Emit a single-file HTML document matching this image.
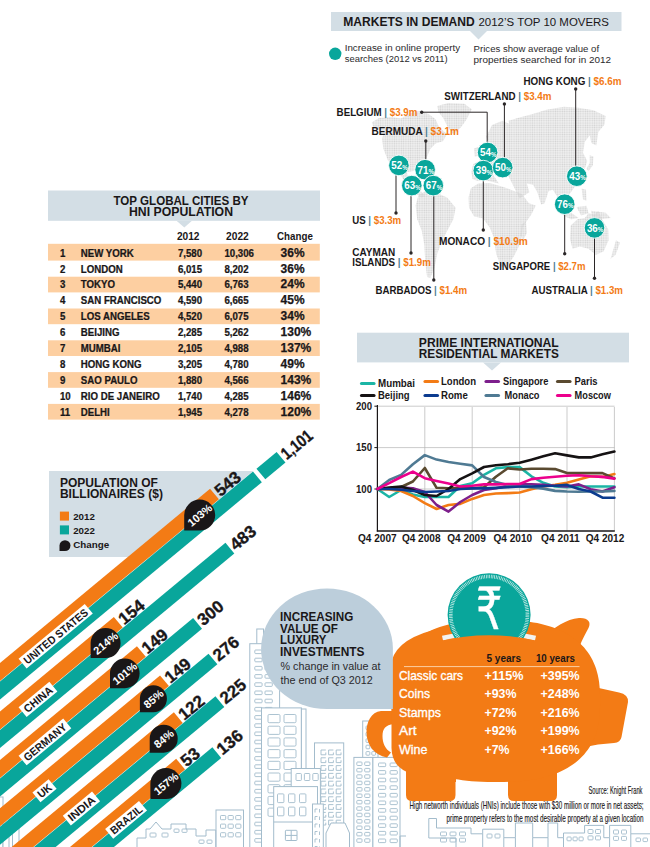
<!DOCTYPE html>
<html lang="en">
<head>
<meta charset="utf-8">
<title>Markets in demand</title>
<style>
html,body{margin:0;padding:0;background:#fff;}
body{width:650px;height:847px;overflow:hidden;font-family:"Liberation Sans",sans-serif;}
svg{display:block;font-family:"Liberation Sans",sans-serif;}
</style>
</head>
<body>
<svg width="650" height="847" viewBox="0 0 650 847">
<rect x="0" y="0" width="650" height="847" fill="#ffffff"/>
<g id="skyline" fill="none" stroke="#a3bccc" stroke-width="1">
<rect x="-5.0" y="797.0" width="8.0" height="53.0" fill="#fff"/>
<rect x="3.0" y="812.0" width="6.0" height="38.0" fill="#fff"/>
<rect x="12.5" y="822.0" width="6.5" height="28.0" fill="#fff"/>
<rect x="256.8" y="629.0" width="6.7" height="21.0" fill="#fff"/>
<rect x="249.8" y="643.7" width="29.8" height="206.3" fill="#fff"/>
<rect x="254.8" y="650.0" width="7.3" height="3.6" rx="0.8" stroke-width="0.9"/>
<rect x="254.8" y="658.2" width="7.3" height="3.6" rx="0.8" stroke-width="0.9"/>
<rect x="254.8" y="666.4" width="7.3" height="3.6" rx="0.8" stroke-width="0.9"/>
<rect x="254.8" y="674.6" width="7.3" height="3.6" rx="0.8" stroke-width="0.9"/>
<rect x="254.8" y="682.8" width="7.3" height="3.6" rx="0.8" stroke-width="0.9"/>
<rect x="254.8" y="691.0" width="7.3" height="3.6" rx="0.8" stroke-width="0.9"/>
<rect x="254.8" y="699.2" width="7.3" height="3.6" rx="0.8" stroke-width="0.9"/>
<rect x="254.8" y="707.4" width="7.3" height="3.6" rx="0.8" stroke-width="0.9"/>
<rect x="254.8" y="715.6" width="7.3" height="3.6" rx="0.8" stroke-width="0.9"/>
<rect x="254.8" y="723.8" width="7.3" height="3.6" rx="0.8" stroke-width="0.9"/>
<rect x="254.8" y="732.0" width="7.3" height="3.6" rx="0.8" stroke-width="0.9"/>
<rect x="254.8" y="740.2" width="7.3" height="3.6" rx="0.8" stroke-width="0.9"/>
<rect x="254.8" y="748.4" width="7.3" height="3.6" rx="0.8" stroke-width="0.9"/>
<rect x="254.8" y="756.6" width="7.3" height="3.6" rx="0.8" stroke-width="0.9"/>
<rect x="254.8" y="764.8" width="7.3" height="3.6" rx="0.8" stroke-width="0.9"/>
<rect x="254.8" y="773.0" width="7.3" height="3.6" rx="0.8" stroke-width="0.9"/>
<rect x="254.8" y="781.2" width="7.3" height="3.6" rx="0.8" stroke-width="0.9"/>
<rect x="254.8" y="789.4" width="7.3" height="3.6" rx="0.8" stroke-width="0.9"/>
<rect x="254.8" y="797.6" width="7.3" height="3.6" rx="0.8" stroke-width="0.9"/>
<rect x="254.8" y="805.8" width="7.3" height="3.6" rx="0.8" stroke-width="0.9"/>
<rect x="254.8" y="814.0" width="7.3" height="3.6" rx="0.8" stroke-width="0.9"/>
<rect x="254.8" y="822.2" width="7.3" height="3.6" rx="0.8" stroke-width="0.9"/>
<rect x="254.8" y="830.4" width="7.3" height="3.6" rx="0.8" stroke-width="0.9"/>
<rect x="254.8" y="838.6" width="7.3" height="3.6" rx="0.8" stroke-width="0.9"/>
<rect x="265.0" y="650.0" width="7.3" height="3.6" rx="0.8" stroke-width="0.9"/>
<rect x="265.0" y="658.2" width="7.3" height="3.6" rx="0.8" stroke-width="0.9"/>
<rect x="265.0" y="666.4" width="7.3" height="3.6" rx="0.8" stroke-width="0.9"/>
<rect x="265.0" y="674.6" width="7.3" height="3.6" rx="0.8" stroke-width="0.9"/>
<rect x="265.0" y="682.8" width="7.3" height="3.6" rx="0.8" stroke-width="0.9"/>
<rect x="265.0" y="691.0" width="7.3" height="3.6" rx="0.8" stroke-width="0.9"/>
<rect x="265.0" y="699.2" width="7.3" height="3.6" rx="0.8" stroke-width="0.9"/>
<rect x="265.0" y="707.4" width="7.3" height="3.6" rx="0.8" stroke-width="0.9"/>
<rect x="265.0" y="715.6" width="7.3" height="3.6" rx="0.8" stroke-width="0.9"/>
<rect x="265.0" y="723.8" width="7.3" height="3.6" rx="0.8" stroke-width="0.9"/>
<rect x="265.0" y="732.0" width="7.3" height="3.6" rx="0.8" stroke-width="0.9"/>
<rect x="265.0" y="740.2" width="7.3" height="3.6" rx="0.8" stroke-width="0.9"/>
<rect x="265.0" y="748.4" width="7.3" height="3.6" rx="0.8" stroke-width="0.9"/>
<rect x="265.0" y="756.6" width="7.3" height="3.6" rx="0.8" stroke-width="0.9"/>
<rect x="265.0" y="764.8" width="7.3" height="3.6" rx="0.8" stroke-width="0.9"/>
<rect x="265.0" y="773.0" width="7.3" height="3.6" rx="0.8" stroke-width="0.9"/>
<rect x="265.0" y="781.2" width="7.3" height="3.6" rx="0.8" stroke-width="0.9"/>
<rect x="265.0" y="789.4" width="7.3" height="3.6" rx="0.8" stroke-width="0.9"/>
<rect x="265.0" y="797.6" width="7.3" height="3.6" rx="0.8" stroke-width="0.9"/>
<rect x="265.0" y="805.8" width="7.3" height="3.6" rx="0.8" stroke-width="0.9"/>
<rect x="265.0" y="814.0" width="7.3" height="3.6" rx="0.8" stroke-width="0.9"/>
<rect x="265.0" y="822.2" width="7.3" height="3.6" rx="0.8" stroke-width="0.9"/>
<rect x="265.0" y="830.4" width="7.3" height="3.6" rx="0.8" stroke-width="0.9"/>
<rect x="265.0" y="838.6" width="7.3" height="3.6" rx="0.8" stroke-width="0.9"/>
<rect x="362.7" y="721.0" width="15.3" height="129.0" fill="#fff"/>
<rect x="366.0" y="726.0" width="3.8" height="3.6" rx="0.8" stroke-width="0.9"/>
<rect x="366.0" y="732.4" width="3.8" height="3.6" rx="0.8" stroke-width="0.9"/>
<rect x="366.0" y="738.8" width="3.8" height="3.6" rx="0.8" stroke-width="0.9"/>
<rect x="366.0" y="745.2" width="3.8" height="3.6" rx="0.8" stroke-width="0.9"/>
<rect x="366.0" y="751.6" width="3.8" height="3.6" rx="0.8" stroke-width="0.9"/>
<rect x="366.0" y="758.0" width="3.8" height="3.6" rx="0.8" stroke-width="0.9"/>
<rect x="371.8" y="726.0" width="3.8" height="3.6" rx="0.8" stroke-width="0.9"/>
<rect x="371.8" y="732.4" width="3.8" height="3.6" rx="0.8" stroke-width="0.9"/>
<rect x="371.8" y="738.8" width="3.8" height="3.6" rx="0.8" stroke-width="0.9"/>
<rect x="371.8" y="745.2" width="3.8" height="3.6" rx="0.8" stroke-width="0.9"/>
<rect x="371.8" y="751.6" width="3.8" height="3.6" rx="0.8" stroke-width="0.9"/>
<rect x="371.8" y="758.0" width="3.8" height="3.6" rx="0.8" stroke-width="0.9"/>
<rect x="353.9" y="757.4" width="19.0" height="92.6" fill="#fff"/>
<rect x="356.8" y="762.0" width="5.2" height="3.5" rx="0.8" stroke-width="0.9"/>
<rect x="356.8" y="768.4" width="5.2" height="3.5" rx="0.8" stroke-width="0.9"/>
<rect x="356.8" y="774.8" width="5.2" height="3.5" rx="0.8" stroke-width="0.9"/>
<rect x="356.8" y="781.2" width="5.2" height="3.5" rx="0.8" stroke-width="0.9"/>
<rect x="356.8" y="787.6" width="5.2" height="3.5" rx="0.8" stroke-width="0.9"/>
<rect x="356.8" y="794.0" width="5.2" height="3.5" rx="0.8" stroke-width="0.9"/>
<rect x="356.8" y="800.4" width="5.2" height="3.5" rx="0.8" stroke-width="0.9"/>
<rect x="356.8" y="806.8" width="5.2" height="3.5" rx="0.8" stroke-width="0.9"/>
<rect x="356.8" y="813.2" width="5.2" height="3.5" rx="0.8" stroke-width="0.9"/>
<rect x="356.8" y="819.6" width="5.2" height="3.5" rx="0.8" stroke-width="0.9"/>
<rect x="356.8" y="826.0" width="5.2" height="3.5" rx="0.8" stroke-width="0.9"/>
<rect x="356.8" y="832.4" width="5.2" height="3.5" rx="0.8" stroke-width="0.9"/>
<rect x="356.8" y="838.8" width="5.2" height="3.5" rx="0.8" stroke-width="0.9"/>
<rect x="364.7" y="762.0" width="5.2" height="3.5" rx="0.8" stroke-width="0.9"/>
<rect x="364.7" y="768.4" width="5.2" height="3.5" rx="0.8" stroke-width="0.9"/>
<rect x="364.7" y="774.8" width="5.2" height="3.5" rx="0.8" stroke-width="0.9"/>
<rect x="364.7" y="781.2" width="5.2" height="3.5" rx="0.8" stroke-width="0.9"/>
<rect x="364.7" y="787.6" width="5.2" height="3.5" rx="0.8" stroke-width="0.9"/>
<rect x="364.7" y="794.0" width="5.2" height="3.5" rx="0.8" stroke-width="0.9"/>
<rect x="364.7" y="800.4" width="5.2" height="3.5" rx="0.8" stroke-width="0.9"/>
<rect x="364.7" y="806.8" width="5.2" height="3.5" rx="0.8" stroke-width="0.9"/>
<rect x="364.7" y="813.2" width="5.2" height="3.5" rx="0.8" stroke-width="0.9"/>
<rect x="364.7" y="819.6" width="5.2" height="3.5" rx="0.8" stroke-width="0.9"/>
<rect x="364.7" y="826.0" width="5.2" height="3.5" rx="0.8" stroke-width="0.9"/>
<rect x="364.7" y="832.4" width="5.2" height="3.5" rx="0.8" stroke-width="0.9"/>
<rect x="364.7" y="838.8" width="5.2" height="3.5" rx="0.8" stroke-width="0.9"/>
<rect x="372.9" y="757.4" width="27.1" height="92.6" fill="#fff"/>
<rect x="378.5" y="763.0" width="7.2" height="3.6" rx="0.8" stroke-width="0.9"/>
<rect x="378.5" y="770.6" width="7.2" height="3.6" rx="0.8" stroke-width="0.9"/>
<rect x="378.5" y="778.2" width="7.2" height="3.6" rx="0.8" stroke-width="0.9"/>
<rect x="378.5" y="785.8" width="7.2" height="3.6" rx="0.8" stroke-width="0.9"/>
<rect x="378.5" y="793.4" width="7.2" height="3.6" rx="0.8" stroke-width="0.9"/>
<rect x="378.5" y="801.0" width="7.2" height="3.6" rx="0.8" stroke-width="0.9"/>
<rect x="378.5" y="808.6" width="7.2" height="3.6" rx="0.8" stroke-width="0.9"/>
<rect x="378.5" y="816.2" width="7.2" height="3.6" rx="0.8" stroke-width="0.9"/>
<rect x="378.5" y="823.8" width="7.2" height="3.6" rx="0.8" stroke-width="0.9"/>
<rect x="378.5" y="831.4" width="7.2" height="3.6" rx="0.8" stroke-width="0.9"/>
<rect x="378.5" y="839.0" width="7.2" height="3.6" rx="0.8" stroke-width="0.9"/>
<rect x="390.1" y="763.0" width="7.2" height="3.6" rx="0.8" stroke-width="0.9"/>
<rect x="390.1" y="770.6" width="7.2" height="3.6" rx="0.8" stroke-width="0.9"/>
<rect x="390.1" y="778.2" width="7.2" height="3.6" rx="0.8" stroke-width="0.9"/>
<rect x="390.1" y="785.8" width="7.2" height="3.6" rx="0.8" stroke-width="0.9"/>
<rect x="390.1" y="793.4" width="7.2" height="3.6" rx="0.8" stroke-width="0.9"/>
<rect x="390.1" y="801.0" width="7.2" height="3.6" rx="0.8" stroke-width="0.9"/>
<rect x="390.1" y="808.6" width="7.2" height="3.6" rx="0.8" stroke-width="0.9"/>
<rect x="390.1" y="816.2" width="7.2" height="3.6" rx="0.8" stroke-width="0.9"/>
<rect x="390.1" y="823.8" width="7.2" height="3.6" rx="0.8" stroke-width="0.9"/>
<rect x="390.1" y="831.4" width="7.2" height="3.6" rx="0.8" stroke-width="0.9"/>
<rect x="390.1" y="839.0" width="7.2" height="3.6" rx="0.8" stroke-width="0.9"/>
<rect x="261.5" y="707.9" width="39.9" height="142.1" fill="#fff"/>
<rect x="268.0" y="714.5" width="12" height="8.2" rx="1.2" stroke-width="0.9"/>
<rect x="268.0" y="726.2" width="12" height="8.2" rx="1.2" stroke-width="0.9"/>
<rect x="268.0" y="737.9" width="12" height="8.2" rx="1.2" stroke-width="0.9"/>
<rect x="268.0" y="749.6" width="12" height="8.2" rx="1.2" stroke-width="0.9"/>
<rect x="268.0" y="761.3" width="12" height="8.2" rx="1.2" stroke-width="0.9"/>
<rect x="268.0" y="773.0" width="12" height="8.2" rx="1.2" stroke-width="0.9"/>
<rect x="268.0" y="784.7" width="12" height="8.2" rx="1.2" stroke-width="0.9"/>
<rect x="268.0" y="796.4" width="12" height="8.2" rx="1.2" stroke-width="0.9"/>
<rect x="268.0" y="808.1" width="12" height="8.2" rx="1.2" stroke-width="0.9"/>
<rect x="284.0" y="714.5" width="12" height="8.2" rx="1.2" stroke-width="0.9"/>
<rect x="284.0" y="726.2" width="12" height="8.2" rx="1.2" stroke-width="0.9"/>
<rect x="284.0" y="737.9" width="12" height="8.2" rx="1.2" stroke-width="0.9"/>
<rect x="284.0" y="749.6" width="12" height="8.2" rx="1.2" stroke-width="0.9"/>
<rect x="284.0" y="761.3" width="12" height="8.2" rx="1.2" stroke-width="0.9"/>
<rect x="284.0" y="773.0" width="12" height="8.2" rx="1.2" stroke-width="0.9"/>
<rect x="284.0" y="784.7" width="12" height="8.2" rx="1.2" stroke-width="0.9"/>
<rect x="284.0" y="796.4" width="12" height="8.2" rx="1.2" stroke-width="0.9"/>
<rect x="284.0" y="808.1" width="12" height="8.2" rx="1.2" stroke-width="0.9"/>
<rect x="301.4" y="709.0" width="4.6" height="141.0" fill="#fff"/>
<rect x="314.5" y="742.9" width="29.2" height="107.1" fill="#fff"/>
<path d="M325.8 750.0 h-4.8 v4.8 h4.8 v-2.3" stroke-width="0.9"/>
<path d="M325.8 757.8 h-4.8 v4.8 h4.8 v-2.3" stroke-width="0.9"/>
<path d="M325.8 765.6 h-4.8 v4.8 h4.8 v-2.3" stroke-width="0.9"/>
<path d="M325.8 773.4 h-4.8 v4.8 h4.8 v-2.3" stroke-width="0.9"/>
<path d="M325.8 781.2 h-4.8 v4.8 h4.8 v-2.3" stroke-width="0.9"/>
<path d="M325.8 789.0 h-4.8 v4.8 h4.8 v-2.3" stroke-width="0.9"/>
<path d="M325.8 796.8 h-4.8 v4.8 h4.8 v-2.3" stroke-width="0.9"/>
<path d="M325.8 804.6 h-4.8 v4.8 h4.8 v-2.3" stroke-width="0.9"/>
<path d="M325.8 812.4 h-4.8 v4.8 h4.8 v-2.3" stroke-width="0.9"/>
<path d="M325.8 820.2 h-4.8 v4.8 h4.8 v-2.3" stroke-width="0.9"/>
<path d="M333.4 750.0 h-4.8 v4.8 h4.8 v-2.3" stroke-width="0.9"/>
<path d="M333.4 757.8 h-4.8 v4.8 h4.8 v-2.3" stroke-width="0.9"/>
<path d="M333.4 765.6 h-4.8 v4.8 h4.8 v-2.3" stroke-width="0.9"/>
<path d="M333.4 773.4 h-4.8 v4.8 h4.8 v-2.3" stroke-width="0.9"/>
<path d="M333.4 781.2 h-4.8 v4.8 h4.8 v-2.3" stroke-width="0.9"/>
<path d="M333.4 789.0 h-4.8 v4.8 h4.8 v-2.3" stroke-width="0.9"/>
<path d="M333.4 796.8 h-4.8 v4.8 h4.8 v-2.3" stroke-width="0.9"/>
<path d="M333.4 804.6 h-4.8 v4.8 h4.8 v-2.3" stroke-width="0.9"/>
<path d="M333.4 812.4 h-4.8 v4.8 h4.8 v-2.3" stroke-width="0.9"/>
<path d="M333.4 820.2 h-4.8 v4.8 h4.8 v-2.3" stroke-width="0.9"/>
<path d="M341.0 750.0 h-4.8 v4.8 h4.8 v-2.3" stroke-width="0.9"/>
<path d="M341.0 757.8 h-4.8 v4.8 h4.8 v-2.3" stroke-width="0.9"/>
<path d="M341.0 765.6 h-4.8 v4.8 h4.8 v-2.3" stroke-width="0.9"/>
<path d="M341.0 773.4 h-4.8 v4.8 h4.8 v-2.3" stroke-width="0.9"/>
<path d="M341.0 781.2 h-4.8 v4.8 h4.8 v-2.3" stroke-width="0.9"/>
<path d="M341.0 789.0 h-4.8 v4.8 h4.8 v-2.3" stroke-width="0.9"/>
<path d="M341.0 796.8 h-4.8 v4.8 h4.8 v-2.3" stroke-width="0.9"/>
<path d="M341.0 804.6 h-4.8 v4.8 h4.8 v-2.3" stroke-width="0.9"/>
<path d="M341.0 812.4 h-4.8 v4.8 h4.8 v-2.3" stroke-width="0.9"/>
<path d="M341.0 820.2 h-4.8 v4.8 h4.8 v-2.3" stroke-width="0.9"/>
<path d="M326 847 V833 L331 823 H345 L349.5 833 V847" fill="#fff"/>
<rect x="291.2" y="768.5" width="29.2" height="81.5" fill="#fff"/>
<rect x="296.0" y="773.5" width="5.4" height="7" rx="0.8" stroke-width="0.9"/>
<rect x="304.4" y="773.5" width="5.4" height="7" rx="0.8" stroke-width="0.9"/>
<rect x="312.8" y="773.5" width="5.4" height="7" rx="0.8" stroke-width="0.9"/>
<rect x="273.7" y="786.6" width="43.8" height="63.4" fill="#fff"/>
<rect x="277.5" y="793.9" width="6.4" height="8.7" rx="0.8" stroke-width="0.9"/>
<rect x="277.5" y="807.1" width="6.4" height="8.7" rx="0.8" stroke-width="0.9"/>
<rect x="288.5" y="793.9" width="6.4" height="8.7" rx="0.8" stroke-width="0.9"/>
<rect x="288.5" y="807.1" width="6.4" height="8.7" rx="0.8" stroke-width="0.9"/>
<rect x="299.5" y="793.9" width="6.4" height="8.7" rx="0.8" stroke-width="0.9"/>
<rect x="299.5" y="807.1" width="6.4" height="8.7" rx="0.8" stroke-width="0.9"/>
<line x1="273.7" y1="822" x2="317.5" y2="822"/>
<rect x="285.4" y="830.3" width="11.6" height="10.2" rx="0.8"/>
<line x1="291.2" y1="830.3" x2="291.2" y2="840.5"/><line x1="285.4" y1="835.4" x2="297" y2="835.4"/>
<rect x="312.5" y="804.0" width="10.8" height="46.0" fill="#fff"/>
<path d="M315 809.0 v3.5 M319.5 809.0 v3.5 M315 809.0 h2.5" stroke-width="0.9"/>
<path d="M315 816.5 v3.5 M319.5 816.5 v3.5 M315 816.5 h2.5" stroke-width="0.9"/>
<path d="M315 824.0 v3.5 M319.5 824.0 v3.5 M315 824.0 h2.5" stroke-width="0.9"/>
<path d="M315 831.5 v3.5 M319.5 831.5 v3.5 M315 831.5 h2.5" stroke-width="0.9"/>
<path d="M315 839.0 v3.5 M319.5 839.0 v3.5 M315 839.0 h2.5" stroke-width="0.9"/>
<path d="M315 846.5 v3.5 M319.5 846.5 v3.5 M315 846.5 h2.5" stroke-width="0.9"/>
<rect x="216.0" y="810.0" width="27.5" height="40.0" fill="#fff"/>
<rect x="220.5" y="815.5" width="5.2" height="4.2" rx="0.8" stroke-width="0.9"/>
<rect x="220.5" y="824.1" width="5.2" height="4.2" rx="0.8" stroke-width="0.9"/>
<rect x="220.5" y="832.7" width="5.2" height="4.2" rx="0.8" stroke-width="0.9"/>
<rect x="228.1" y="815.5" width="5.2" height="4.2" rx="0.8" stroke-width="0.9"/>
<rect x="228.1" y="824.1" width="5.2" height="4.2" rx="0.8" stroke-width="0.9"/>
<rect x="228.1" y="832.7" width="5.2" height="4.2" rx="0.8" stroke-width="0.9"/>
<rect x="235.7" y="815.5" width="5.2" height="4.2" rx="0.8" stroke-width="0.9"/>
<rect x="235.7" y="824.1" width="5.2" height="4.2" rx="0.8" stroke-width="0.9"/>
<rect x="235.7" y="832.7" width="5.2" height="4.2" rx="0.8" stroke-width="0.9"/>
<path d="M137 847 V838 H146 V829 H150 L156 822 L162 829 H171 V824 H186 V829 H196 V836 H206 V830 H215.7 V847" fill="#fff"/>
<rect x="150.0" y="833.0" width="6" height="4" rx="0.8" stroke-width="0.9"/>
<rect x="162.0" y="833.0" width="6" height="4" rx="0.8" stroke-width="0.9"/>
<rect x="174.0" y="829.0" width="5" height="3.4" rx="0.8" stroke-width="0.9"/>
<rect x="182.0" y="829.0" width="5" height="3.4" rx="0.8" stroke-width="0.9"/>
<rect x="199.0" y="840.0" width="5" height="3.4" rx="0.8" stroke-width="0.9"/>
<rect x="207.0" y="840.0" width="5" height="3.4" rx="0.8" stroke-width="0.9"/>
<path d="M400 847 V836 H406 M456 847 V838 H428.8 V818.5 H436.5 V828 H471 V833.8 H482.7 V829.2 H503.8 V837.7 H515.4 V823 H532.7 V837.7 H548 V823 H557.7 V837.7 H563.5 V833 H584.6 V825.4 H603.8 V837.7 H609.6 V825.4 H630.8 V833.8 H650" />
<path d="M482.7 833.8 V847 M503.8 837.7 V847 M515.4 837.7 V847 M532.7 837.7 V847 M548 837.7 V847 M563.5 837.7 V847 M609.6 837.7 V847 M630.8 833.8 V847"/>
<rect x="440.5" y="832.0" width="6" height="3.8" rx="0.8" stroke-width="0.9"/>
<rect x="440.5" y="838.2" width="6" height="3.8" rx="0.8" stroke-width="0.9"/>
<rect x="450.0" y="832.0" width="6" height="3.8" rx="0.8" stroke-width="0.9"/>
<rect x="450.0" y="838.2" width="6" height="3.8" rx="0.8" stroke-width="0.9"/>
<rect x="459.5" y="832.0" width="6" height="3.8" rx="0.8" stroke-width="0.9"/>
<rect x="459.5" y="838.2" width="6" height="3.8" rx="0.8" stroke-width="0.9"/>
<rect x="567.0" y="837.0" width="4.2" height="3.8" rx="0.8" stroke-width="0.9"/>
<rect x="573.0" y="837.0" width="4.2" height="3.8" rx="0.8" stroke-width="0.9"/>
<rect x="579.0" y="837.0" width="4.2" height="3.8" rx="0.8" stroke-width="0.9"/>
<rect x="588.0" y="829.5" width="5" height="4" rx="0.8" stroke-width="0.9"/>
<rect x="588.0" y="835.9" width="5" height="4" rx="0.8" stroke-width="0.9"/>
<rect x="595.5" y="829.5" width="5" height="4" rx="0.8" stroke-width="0.9"/>
<rect x="595.5" y="835.9" width="5" height="4" rx="0.8" stroke-width="0.9"/>
<rect x="613.5" y="830.0" width="5" height="4" rx="0.8" stroke-width="0.9"/>
<rect x="613.5" y="836.4" width="5" height="4" rx="0.8" stroke-width="0.9"/>
<rect x="621.5" y="830.0" width="5" height="4" rx="0.8" stroke-width="0.9"/>
<rect x="621.5" y="836.4" width="5" height="4" rx="0.8" stroke-width="0.9"/>
<rect x="636.0" y="838.0" width="4.5" height="3.6" rx="0.8" stroke-width="0.9"/>
<rect x="643.0" y="838.0" width="4.5" height="3.6" rx="0.8" stroke-width="0.9"/>
<rect x="487.0" y="834.0" width="5" height="4" rx="0.8" stroke-width="0.9"/>
<rect x="495.0" y="834.0" width="5" height="4" rx="0.8" stroke-width="0.9"/>
</g>
<g id="header">
<rect x="331" y="12" width="290.5" height="19" fill="#d3dee5"/>
<polygon points="470,31 487,31 478.5,39.5" fill="#d3dee5"/>
<text x="343.2" y="26.2" font-size="12" font-weight="bold" fill="#1a1718" textLength="131.5" lengthAdjust="spacingAndGlyphs">MARKETS IN DEMAND</text>
<text x="478.5" y="26.2" font-size="11.8" fill="#1a1718" textLength="130.5" lengthAdjust="spacingAndGlyphs">2012’S TOP 10 MOVERS</text>
<circle cx="335.2" cy="53.8" r="6.2" fill="#09a69b"/>
<text x="344.7" y="51.2" font-size="9.6" fill="#2b2a2c" textLength="115.5" lengthAdjust="spacingAndGlyphs">Increase in online property</text>
<text x="344.7" y="61.6" font-size="9.6" fill="#2b2a2c" textLength="103" lengthAdjust="spacingAndGlyphs">searches (2012 vs 2011)</text>
<text x="473.6" y="52.4" font-size="9.6" fill="#2b2a2c" textLength="125.5" lengthAdjust="spacingAndGlyphs">Prices show average value of</text>
<text x="473.6" y="62.8" font-size="9.6" fill="#2b2a2c" textLength="137.5" lengthAdjust="spacingAndGlyphs">properties searched for in 2012</text>
</g>
<g id="worldmap">
<defs><pattern id="dots" x="0" y="0" width="2.3" height="2.3" patternUnits="userSpaceOnUse"><rect x="0.3" y="0.3" width="1.7" height="1.7" fill="#d2d2d2"/></pattern></defs>
<g fill="url(#dots)">
<polygon points="371.8,122.2 379.2,118.0 390.7,116.9 401.1,118.5 410.3,113.0 419.5,111.1 428.7,113.9 435.6,119.2 439.1,127.2 447.1,134.1 443.2,141.1 435.6,143.4 430.3,149.1 426.4,158.3 423.4,165.2 424.8,172.1 421.1,172.8 418.4,168.2 413.3,171.0 406.8,172.1 409.1,180.2 414.9,186.0 421.1,191.2 425.3,196.3 421.1,197.5 413.7,191.7 406.8,185.3 400.4,174.4 394.9,168.2 388.0,160.6 383.4,149.1 382.0,138.7 384.3,131.8 379.2,129.5 374.1,129.5"/>
<polygon points="437.2,106.1 448.3,103.1 464.4,103.7 471.8,109.3 466.7,119.2 461.0,127.2 453.4,134.6 447.8,127.2 443.2,118.0 438.6,112.3"/>
<polygon points="418.4,195.2 426.4,190.6 436.8,192.9 447.1,197.5 455.7,207.8 453.4,219.3 447.1,230.9 441.4,242.4 437.2,253.9 434.5,267.7 430.3,278.1 427.1,276.9 425.3,263.1 424.3,244.7 421.8,230.9 417.2,219.3 415.6,205.5"/>
<polygon points="470.9,188.3 478.2,183.6 489.7,183.0 500.1,186.0 511.6,189.9 522.0,194.0 528.9,203.2 535.8,205.5 531.2,214.7 523.1,226.2 520.8,242.4 513.9,256.2 507.0,266.5 501.2,267.2 496.2,253.9 493.9,237.8 489.7,227.4 482.8,218.2 474.1,216.6 469.0,207.8 468.5,197.5"/>
<polygon points="521.5,224.2 525.9,221.8 526.9,232.8 523.2,240.2 520.5,235.3"/>
<polygon points="471.3,172.1 473.2,164.1 480.1,160.6 478.2,155.3 484.7,153.7 488.6,144.5 486.3,136.4 492.0,124.9 502.4,120.8 509.3,123.8 508.5,120.8 519.5,117.6 531.8,114.2 546.6,109.8 563.8,106.8 578.6,107.8 593.4,110.3 605.7,115.9 604.5,124.5 598.3,131.9 596.3,145.5 591.4,143.0 589.7,135.6 584.8,141.8 583.0,152.8 587.2,161.0 584.8,168.8 579.1,175.0 576.2,184.8 570.0,193.5 565.1,199.6 563.8,210.7 560.2,209.5 558.4,198.4 552.8,189.8 548.6,191.0 544.6,203.3 541.2,204.5 537.3,192.2 533.1,184.8 526.9,183.6 529.4,192.2 519.5,198.4 513.4,186.1 508.5,176.2 501.8,173.8 497.4,168.8 490.0,170.1 498.9,183.6 489.7,181.3 482.8,180.2 477.1,180.7 472.5,179.0"/>
<polygon points="474.1,148.4 478.2,146.8 480.1,155.3 474.8,156.7"/>
<polygon points="589.7,155.3 593.4,156.5 592.9,165.2 588.5,171.3 586.5,168.8 589.7,162.7"/>
<polygon points="561.9,210.7 571.2,212.7 578.6,218.1 571.2,219.3 563.8,216.1"/>
<polygon points="576.6,207.0 586.5,205.8 588.5,213.2 581.1,215.6"/>
<polygon points="581.6,188.5 586.0,189.8 586.5,200.8 583.0,199.6"/>
<polygon points="590.9,210.7 605.7,212.7 610.6,218.1 600.8,219.3 592.2,216.8"/>
<polygon points="570.7,225.5 577.4,219.3 584.8,218.1 588.5,213.2 594.6,214.4 598.3,210.7 602.0,219.3 608.2,229.2 608.6,240.2 603.7,251.3 595.8,255.0 588.5,248.8 579.8,246.4 572.5,248.8 570.0,239.0"/>
<polygon points="616.0,240.2 620.0,242.7 615.5,255.0 610.6,258.7 613.1,250.1"/>
</g>
<line x1="396" y1="170" x2="396" y2="213" stroke="#2a2627" stroke-width="1"/>
<circle cx="396" cy="213" r="1.7" fill="#2a2627"/>
<line x1="411" y1="190" x2="411" y2="253" stroke="#2a2627" stroke-width="1"/>
<circle cx="411" cy="253" r="1.7" fill="#2a2627"/>
<line x1="433.8" y1="190" x2="433.8" y2="280" stroke="#2a2627" stroke-width="1"/>
<circle cx="433.8" cy="280" r="1.7" fill="#2a2627"/>
<line x1="425.8" y1="141" x2="425.8" y2="165" stroke="#2a2627" stroke-width="1"/>
<circle cx="425.8" cy="141" r="1.7" fill="#2a2627"/>
<polyline points="421.7,112.2 487.2,112.2 487.2,150" fill="none" stroke="#2a2627" stroke-width="1"/>
<circle cx="421.7" cy="112.2" r="1.7" fill="#2a2627"/>
<line x1="504.4" y1="104" x2="504.4" y2="160" stroke="#2a2627" stroke-width="1"/>
<circle cx="504.4" cy="104" r="1.7" fill="#2a2627"/>
<line x1="483.3" y1="175" x2="483.3" y2="230" stroke="#2a2627" stroke-width="1"/>
<circle cx="483.3" cy="230" r="1.7" fill="#2a2627"/>
<line x1="575.7" y1="89" x2="575.7" y2="170" stroke="#2a2627" stroke-width="1"/>
<circle cx="575.7" cy="89" r="1.7" fill="#2a2627"/>
<line x1="564.7" y1="208" x2="564.7" y2="253.7" stroke="#2a2627" stroke-width="1"/>
<circle cx="564.7" cy="253.7" r="1.7" fill="#2a2627"/>
<line x1="594.5" y1="232" x2="594.5" y2="278.3" stroke="#2a2627" stroke-width="1"/>
<circle cx="594.5" cy="278.3" r="1.7" fill="#2a2627"/>
<circle cx="398.9" cy="165.4" r="10.3" fill="#09a69b" stroke="#fff" stroke-width="0.9"/>
<text x="391.3" y="169.2" font-size="11" font-weight="bold" fill="#fff" textLength="16.5" lengthAdjust="spacingAndGlyphs">52<tspan font-size="7" dy="0.3">%</tspan></text>
<circle cx="425.1" cy="169.7" r="10.3" fill="#09a69b" stroke="#fff" stroke-width="0.9"/>
<text x="417.5" y="173.5" font-size="11" font-weight="bold" fill="#fff" textLength="16.5" lengthAdjust="spacingAndGlyphs">71<tspan font-size="7" dy="0.3">%</tspan></text>
<circle cx="411.8" cy="185.6" r="10.3" fill="#09a69b" stroke="#fff" stroke-width="0.9"/>
<text x="404.2" y="189.4" font-size="11" font-weight="bold" fill="#fff" textLength="16.5" lengthAdjust="spacingAndGlyphs">63<tspan font-size="7" dy="0.3">%</tspan></text>
<circle cx="433.3" cy="185.6" r="10.3" fill="#09a69b" stroke="#fff" stroke-width="0.9"/>
<text x="425.7" y="189.4" font-size="11" font-weight="bold" fill="#fff" textLength="16.5" lengthAdjust="spacingAndGlyphs">67<tspan font-size="7" dy="0.3">%</tspan></text>
<circle cx="487.6" cy="152.5" r="10.3" fill="#09a69b" stroke="#fff" stroke-width="0.9"/>
<text x="480.0" y="156.3" font-size="11" font-weight="bold" fill="#fff" textLength="16.5" lengthAdjust="spacingAndGlyphs">54<tspan font-size="7" dy="0.3">%</tspan></text>
<circle cx="483.3" cy="170.6" r="10.3" fill="#09a69b" stroke="#fff" stroke-width="0.9"/>
<text x="475.7" y="174.4" font-size="11" font-weight="bold" fill="#fff" textLength="16.5" lengthAdjust="spacingAndGlyphs">39<tspan font-size="7" dy="0.3">%</tspan></text>
<circle cx="502.7" cy="167.6" r="10.3" fill="#09a69b" stroke="#fff" stroke-width="0.9"/>
<text x="495.1" y="171.4" font-size="11" font-weight="bold" fill="#fff" textLength="16.5" lengthAdjust="spacingAndGlyphs">50<tspan font-size="7" dy="0.3">%</tspan></text>
<circle cx="576.8" cy="176.2" r="10.3" fill="#09a69b" stroke="#fff" stroke-width="0.9"/>
<text x="569.2" y="180.0" font-size="11" font-weight="bold" fill="#fff" textLength="16.5" lengthAdjust="spacingAndGlyphs">43<tspan font-size="7" dy="0.3">%</tspan></text>
<circle cx="564.7" cy="204.2" r="10.3" fill="#09a69b" stroke="#fff" stroke-width="0.9"/>
<text x="557.1" y="208.0" font-size="11" font-weight="bold" fill="#fff" textLength="16.5" lengthAdjust="spacingAndGlyphs">76<tspan font-size="7" dy="0.3">%</tspan></text>
<circle cx="594.5" cy="227.9" r="10.3" fill="#09a69b" stroke="#fff" stroke-width="0.9"/>
<text x="586.9" y="231.7" font-size="11" font-weight="bold" fill="#fff" textLength="16.5" lengthAdjust="spacingAndGlyphs">36<tspan font-size="7" dy="0.3">%</tspan></text>
<text x="523.5" y="84.8" font-size="10.4" font-weight="bold" fill="#1a1718" textLength="98.0" lengthAdjust="spacingAndGlyphs">HONG KONG <tspan fill="#4f8196">|</tspan> <tspan fill="#f37b15">$6.6m</tspan></text>
<text x="444.3" y="99.9" font-size="10.4" font-weight="bold" fill="#1a1718" textLength="107.2" lengthAdjust="spacingAndGlyphs">SWITZERLAND <tspan fill="#4f8196">|</tspan> <tspan fill="#f37b15">$3.4m</tspan></text>
<text x="336.6" y="115.5" font-size="10.4" font-weight="bold" fill="#1a1718" textLength="80.8" lengthAdjust="spacingAndGlyphs">BELGIUM <tspan fill="#4f8196">|</tspan> <tspan fill="#f37b15">$3.9m</tspan></text>
<text x="371.6" y="134.9" font-size="10.4" font-weight="bold" fill="#1a1718" textLength="87.3" lengthAdjust="spacingAndGlyphs">BERMUDA <tspan fill="#4f8196">|</tspan> <tspan fill="#f37b15">$3.1m</tspan></text>
<text x="352.2" y="223.7" font-size="10.4" font-weight="bold" fill="#1a1718" textLength="49.0" lengthAdjust="spacingAndGlyphs">US <tspan fill="#4f8196">|</tspan> <tspan fill="#f37b15">$3.3m</tspan></text>
<text x="352.2" y="266.3" font-size="10.4" font-weight="bold" fill="#1a1718" textLength="78.7" lengthAdjust="spacingAndGlyphs">ISLANDS <tspan fill="#4f8196">|</tspan> <tspan fill="#f37b15">$1.9m</tspan></text>
<text x="375.4" y="293.7" font-size="10.4" font-weight="bold" fill="#1a1718" textLength="91.6" lengthAdjust="spacingAndGlyphs">BARBADOS <tspan fill="#4f8196">|</tspan> <tspan fill="#f37b15">$1.4m</tspan></text>
<text x="439.0" y="244.7" font-size="10.4" font-weight="bold" fill="#1a1718" textLength="88.8" lengthAdjust="spacingAndGlyphs">MONACO <tspan fill="#4f8196">|</tspan> <tspan fill="#f37b15">$10.9m</tspan></text>
<text x="492.8" y="269.5" font-size="10.4" font-weight="bold" fill="#1a1718" textLength="92.6" lengthAdjust="spacingAndGlyphs">SINGAPORE <tspan fill="#4f8196">|</tspan> <tspan fill="#f37b15">$2.7m</tspan></text>
<text x="531.6" y="293.7" font-size="10.4" font-weight="bold" fill="#1a1718" textLength="91.4" lengthAdjust="spacingAndGlyphs">AUSTRALIA <tspan fill="#4f8196">|</tspan> <tspan fill="#f37b15">$1.3m</tspan></text>
<text x="352.2" y="256" font-size="10.4" font-weight="bold" fill="#1a1718" textLength="43" lengthAdjust="spacingAndGlyphs">CAYMAN</text>
</g>
<g id="cities">
<rect x="48" y="190.5" width="272" height="30.3" fill="#d3dee5"/>
<polygon points="176.5,220.8 192,220.8 184.3,227.6" fill="#d3dee5"/>
<text x="181" y="204.9" font-size="12" font-weight="bold" fill="#1a1718" text-anchor="middle" textLength="135" lengthAdjust="spacingAndGlyphs">TOP GLOBAL CITIES BY</text>
<text x="181" y="215.8" font-size="12" font-weight="bold" fill="#1a1718" text-anchor="middle" textLength="104" lengthAdjust="spacingAndGlyphs">HNI POPULATION</text>
<text x="176.9" y="239.8" font-size="10.2" font-weight="bold" fill="#1a1718" textLength="22.6" lengthAdjust="spacingAndGlyphs">2012</text>
<text x="226.1" y="239.8" font-size="10.2" font-weight="bold" fill="#1a1718" textLength="22.7" lengthAdjust="spacingAndGlyphs">2022</text>
<text x="277.1" y="239.8" font-size="10.2" font-weight="bold" fill="#1a1718" textLength="35.7" lengthAdjust="spacingAndGlyphs">Change</text>
<rect x="48" y="243.8" width="271.8" height="16.8" fill="#fdcfa1"/>
<text transform="translate(60 256.6) scale(0.93 1)" font-size="10.4" font-weight="bold" fill="#1a1718" stroke="#1a1718" stroke-width="0.25">1</text>
<text transform="translate(80.8 256.6) scale(0.93 1)" font-size="10.4" font-weight="bold" fill="#1a1718" stroke="#1a1718" stroke-width="0.25">NEW YORK</text>
<text transform="translate(177.9 256.6) scale(0.93 1)" font-size="10.4" font-weight="bold" fill="#1a1718" stroke="#1a1718" stroke-width="0.25">7,580</text>
<text transform="translate(224.4 256.6) scale(0.93 1)" font-size="10.4" font-weight="bold" fill="#1a1718" stroke="#1a1718" stroke-width="0.25">10,306</text>
<text transform="translate(280.6 256.6) scale(1.0 1)" font-size="12" font-weight="bold" fill="#1a1718" stroke="#1a1718" stroke-width="0.25">36%</text>
<text transform="translate(60 272.5) scale(0.93 1)" font-size="10.4" font-weight="bold" fill="#1a1718" stroke="#1a1718" stroke-width="0.25">2</text>
<text transform="translate(80.8 272.5) scale(0.93 1)" font-size="10.4" font-weight="bold" fill="#1a1718" stroke="#1a1718" stroke-width="0.25">LONDON</text>
<text transform="translate(177.9 272.5) scale(0.93 1)" font-size="10.4" font-weight="bold" fill="#1a1718" stroke="#1a1718" stroke-width="0.25">6,015</text>
<text transform="translate(224.4 272.5) scale(0.93 1)" font-size="10.4" font-weight="bold" fill="#1a1718" stroke="#1a1718" stroke-width="0.25">8,202</text>
<text transform="translate(280.6 272.5) scale(1.0 1)" font-size="12" font-weight="bold" fill="#1a1718" stroke="#1a1718" stroke-width="0.25">36%</text>
<rect x="48" y="276.7" width="271.8" height="15.7" fill="#fdcfa1"/>
<text transform="translate(60 288.4) scale(0.93 1)" font-size="10.4" font-weight="bold" fill="#1a1718" stroke="#1a1718" stroke-width="0.25">3</text>
<text transform="translate(80.8 288.4) scale(0.93 1)" font-size="10.4" font-weight="bold" fill="#1a1718" stroke="#1a1718" stroke-width="0.25">TOKYO</text>
<text transform="translate(177.9 288.4) scale(0.93 1)" font-size="10.4" font-weight="bold" fill="#1a1718" stroke="#1a1718" stroke-width="0.25">5,440</text>
<text transform="translate(224.4 288.4) scale(0.93 1)" font-size="10.4" font-weight="bold" fill="#1a1718" stroke="#1a1718" stroke-width="0.25">6,763</text>
<text transform="translate(280.6 288.4) scale(1.0 1)" font-size="12" font-weight="bold" fill="#1a1718" stroke="#1a1718" stroke-width="0.25">24%</text>
<text transform="translate(60 304.3) scale(0.93 1)" font-size="10.4" font-weight="bold" fill="#1a1718" stroke="#1a1718" stroke-width="0.25">4</text>
<text transform="translate(80.8 304.3) scale(0.93 1)" font-size="10.4" font-weight="bold" fill="#1a1718" stroke="#1a1718" stroke-width="0.25">SAN FRANCISCO</text>
<text transform="translate(177.9 304.3) scale(0.93 1)" font-size="10.4" font-weight="bold" fill="#1a1718" stroke="#1a1718" stroke-width="0.25">4,590</text>
<text transform="translate(224.4 304.3) scale(0.93 1)" font-size="10.4" font-weight="bold" fill="#1a1718" stroke="#1a1718" stroke-width="0.25">6,665</text>
<text transform="translate(280.6 304.3) scale(1.0 1)" font-size="12" font-weight="bold" fill="#1a1718" stroke="#1a1718" stroke-width="0.25">45%</text>
<rect x="48" y="308.5" width="271.8" height="15.7" fill="#fdcfa1"/>
<text transform="translate(60 320.2) scale(0.93 1)" font-size="10.4" font-weight="bold" fill="#1a1718" stroke="#1a1718" stroke-width="0.25">5</text>
<text transform="translate(80.8 320.2) scale(0.93 1)" font-size="10.4" font-weight="bold" fill="#1a1718" stroke="#1a1718" stroke-width="0.25">LOS ANGELES</text>
<text transform="translate(177.9 320.2) scale(0.93 1)" font-size="10.4" font-weight="bold" fill="#1a1718" stroke="#1a1718" stroke-width="0.25">4,520</text>
<text transform="translate(224.4 320.2) scale(0.93 1)" font-size="10.4" font-weight="bold" fill="#1a1718" stroke="#1a1718" stroke-width="0.25">6,075</text>
<text transform="translate(280.6 320.2) scale(1.0 1)" font-size="12" font-weight="bold" fill="#1a1718" stroke="#1a1718" stroke-width="0.25">34%</text>
<text transform="translate(60 336.1) scale(0.93 1)" font-size="10.4" font-weight="bold" fill="#1a1718" stroke="#1a1718" stroke-width="0.25">6</text>
<text transform="translate(80.8 336.1) scale(0.93 1)" font-size="10.4" font-weight="bold" fill="#1a1718" stroke="#1a1718" stroke-width="0.25">BEIJING</text>
<text transform="translate(177.9 336.1) scale(0.93 1)" font-size="10.4" font-weight="bold" fill="#1a1718" stroke="#1a1718" stroke-width="0.25">2,285</text>
<text transform="translate(224.4 336.1) scale(0.93 1)" font-size="10.4" font-weight="bold" fill="#1a1718" stroke="#1a1718" stroke-width="0.25">5,262</text>
<text transform="translate(280.6 336.1) scale(1.0 1)" font-size="12" font-weight="bold" fill="#1a1718" stroke="#1a1718" stroke-width="0.25">130%</text>
<rect x="48" y="340.3" width="271.8" height="15.7" fill="#fdcfa1"/>
<text transform="translate(60 352.0) scale(0.93 1)" font-size="10.4" font-weight="bold" fill="#1a1718" stroke="#1a1718" stroke-width="0.25">7</text>
<text transform="translate(80.8 352.0) scale(0.93 1)" font-size="10.4" font-weight="bold" fill="#1a1718" stroke="#1a1718" stroke-width="0.25">MUMBAI</text>
<text transform="translate(177.9 352.0) scale(0.93 1)" font-size="10.4" font-weight="bold" fill="#1a1718" stroke="#1a1718" stroke-width="0.25">2,105</text>
<text transform="translate(224.4 352.0) scale(0.93 1)" font-size="10.4" font-weight="bold" fill="#1a1718" stroke="#1a1718" stroke-width="0.25">4,988</text>
<text transform="translate(280.6 352.0) scale(1.0 1)" font-size="12" font-weight="bold" fill="#1a1718" stroke="#1a1718" stroke-width="0.25">137%</text>
<text transform="translate(60 367.9) scale(0.93 1)" font-size="10.4" font-weight="bold" fill="#1a1718" stroke="#1a1718" stroke-width="0.25">8</text>
<text transform="translate(80.8 367.9) scale(0.93 1)" font-size="10.4" font-weight="bold" fill="#1a1718" stroke="#1a1718" stroke-width="0.25">HONG KONG</text>
<text transform="translate(177.9 367.9) scale(0.93 1)" font-size="10.4" font-weight="bold" fill="#1a1718" stroke="#1a1718" stroke-width="0.25">3,205</text>
<text transform="translate(224.4 367.9) scale(0.93 1)" font-size="10.4" font-weight="bold" fill="#1a1718" stroke="#1a1718" stroke-width="0.25">4,780</text>
<text transform="translate(280.6 367.9) scale(1.0 1)" font-size="12" font-weight="bold" fill="#1a1718" stroke="#1a1718" stroke-width="0.25">49%</text>
<rect x="48" y="372.1" width="271.8" height="15.7" fill="#fdcfa1"/>
<text transform="translate(60 383.8) scale(0.93 1)" font-size="10.4" font-weight="bold" fill="#1a1718" stroke="#1a1718" stroke-width="0.25">9</text>
<text transform="translate(80.8 383.8) scale(0.93 1)" font-size="10.4" font-weight="bold" fill="#1a1718" stroke="#1a1718" stroke-width="0.25">SAO PAULO</text>
<text transform="translate(177.9 383.8) scale(0.93 1)" font-size="10.4" font-weight="bold" fill="#1a1718" stroke="#1a1718" stroke-width="0.25">1,880</text>
<text transform="translate(224.4 383.8) scale(0.93 1)" font-size="10.4" font-weight="bold" fill="#1a1718" stroke="#1a1718" stroke-width="0.25">4,566</text>
<text transform="translate(280.6 383.8) scale(1.0 1)" font-size="12" font-weight="bold" fill="#1a1718" stroke="#1a1718" stroke-width="0.25">143%</text>
<text transform="translate(60 399.7) scale(0.93 1)" font-size="10.4" font-weight="bold" fill="#1a1718" stroke="#1a1718" stroke-width="0.25">10</text>
<text transform="translate(80.8 399.7) scale(0.93 1)" font-size="10.4" font-weight="bold" fill="#1a1718" stroke="#1a1718" stroke-width="0.25">RIO DE JANEIRO</text>
<text transform="translate(177.9 399.7) scale(0.93 1)" font-size="10.4" font-weight="bold" fill="#1a1718" stroke="#1a1718" stroke-width="0.25">1,740</text>
<text transform="translate(224.4 399.7) scale(0.93 1)" font-size="10.4" font-weight="bold" fill="#1a1718" stroke="#1a1718" stroke-width="0.25">4,285</text>
<text transform="translate(280.6 399.7) scale(1.0 1)" font-size="12" font-weight="bold" fill="#1a1718" stroke="#1a1718" stroke-width="0.25">146%</text>
<rect x="48" y="403.9" width="271.8" height="15.7" fill="#fdcfa1"/>
<text transform="translate(60 415.6) scale(0.93 1)" font-size="10.4" font-weight="bold" fill="#1a1718" stroke="#1a1718" stroke-width="0.25">11</text>
<text transform="translate(80.8 415.6) scale(0.93 1)" font-size="10.4" font-weight="bold" fill="#1a1718" stroke="#1a1718" stroke-width="0.25">DELHI</text>
<text transform="translate(177.9 415.6) scale(0.93 1)" font-size="10.4" font-weight="bold" fill="#1a1718" stroke="#1a1718" stroke-width="0.25">1,945</text>
<text transform="translate(224.4 415.6) scale(0.93 1)" font-size="10.4" font-weight="bold" fill="#1a1718" stroke="#1a1718" stroke-width="0.25">4,278</text>
<text transform="translate(280.6 415.6) scale(1.0 1)" font-size="12" font-weight="bold" fill="#1a1718" stroke="#1a1718" stroke-width="0.25">120%</text>
</g>
<g id="chart">
<rect x="357" y="332.7" width="272" height="29.7" fill="#d3dee5"/>
<polygon points="483,362.4 501,362.4 492,370.5" fill="#d3dee5"/>
<text x="488.8" y="346.8" font-size="12" font-weight="bold" fill="#1a1718" text-anchor="middle" textLength="140" lengthAdjust="spacingAndGlyphs">PRIME INTERNATIONAL</text>
<text x="488.8" y="357.6" font-size="12" font-weight="bold" fill="#1a1718" text-anchor="middle" textLength="140" lengthAdjust="spacingAndGlyphs">RESIDENTIAL MARKETS</text>
<line x1="377.4" y1="406.2" x2="614.6" y2="406.2" stroke="#b5b5b5" stroke-width="0.7"/>
<line x1="374.4" y1="406.2" x2="377.4" y2="406.2" stroke="#1a1718" stroke-width="1"/>
<text x="372" y="409.8" font-size="10.2" font-weight="bold" fill="#1a1718" text-anchor="end" textLength="16" lengthAdjust="spacingAndGlyphs">200</text>
<line x1="377.4" y1="447.6" x2="614.6" y2="447.6" stroke="#b5b5b5" stroke-width="0.7"/>
<line x1="374.4" y1="447.6" x2="377.4" y2="447.6" stroke="#1a1718" stroke-width="1"/>
<text x="372" y="451.2" font-size="10.2" font-weight="bold" fill="#1a1718" text-anchor="end" textLength="16" lengthAdjust="spacingAndGlyphs">150</text>
<line x1="377.4" y1="489.0" x2="614.6" y2="489.0" stroke="#b5b5b5" stroke-width="0.7"/>
<line x1="374.4" y1="489.0" x2="377.4" y2="489.0" stroke="#1a1718" stroke-width="1"/>
<text x="372" y="492.6" font-size="10.2" font-weight="bold" fill="#1a1718" text-anchor="end" textLength="16" lengthAdjust="spacingAndGlyphs">100</text>
<line x1="424.8" y1="407" x2="424.8" y2="531" stroke="#b5b5b5" stroke-width="0.7"/>
<line x1="472.2" y1="407" x2="472.2" y2="531" stroke="#b5b5b5" stroke-width="0.7"/>
<line x1="519.6" y1="407" x2="519.6" y2="531" stroke="#b5b5b5" stroke-width="0.7"/>
<line x1="567.0" y1="407" x2="567.0" y2="531" stroke="#b5b5b5" stroke-width="0.7"/>
<line x1="614.4" y1="407" x2="614.4" y2="531" stroke="#b5b5b5" stroke-width="0.7"/>
<line x1="377.4" y1="405" x2="377.4" y2="531.5" stroke="#1a1718" stroke-width="1.2"/>
<line x1="376.79999999999995" y1="531" x2="614.8" y2="531" stroke="#1a1718" stroke-width="1.4"/>
<polyline points="377.4,489.0 389.2,497.0 401.1,490.0 412.9,494.4 424.8,497.0 436.6,497.0 448.5,497.0 460.3,486.0 472.2,483.2 484.0,474.9 495.9,468.3 507.8,467.1 519.6,467.1 531.4,476.3 543.3,482.8 555.1,486.5 567.0,487.1 578.8,486.5 590.7,486.5 602.5,486.5 614.4,486.5" fill="none" stroke="#1bb5a5" stroke-width="2.6" stroke-linejoin="round" stroke-linecap="round"/>
<polyline points="377.4,489.0 389.2,489.4 401.1,491.0 412.9,496.0 424.8,503.1 436.6,509.0 448.5,505.0 460.3,503.9 472.2,498.9 484.0,495.0 495.9,493.5 507.8,493.1 519.6,492.5 531.4,489.2 543.3,486.5 555.1,484.9 567.0,482.8 578.8,479.6 590.7,476.3 602.5,476.9 614.4,474.1" fill="none" stroke="#f37b15" stroke-width="2.6" stroke-linejoin="round" stroke-linecap="round"/>
<polyline points="377.4,489.0 389.2,488.4 401.1,487.6 412.9,488.2 424.8,492.0 436.6,505.0 448.5,511.6 460.3,502.0 472.2,495.0 484.0,490.0 495.9,488.2 507.8,485.7 519.6,484.3 531.4,484.3 543.3,484.9 555.1,485.7 567.0,486.5 578.8,484.4 590.7,489.2 602.5,491.5 614.4,487.3" fill="none" stroke="#7d1f8c" stroke-width="2.6" stroke-linejoin="round" stroke-linecap="round"/>
<polyline points="377.4,489.0 389.2,488.2 401.1,487.0 412.9,481.5 424.8,468.0 436.6,487.8 448.5,488.2 460.3,488.2 472.2,488.2 484.0,487.3 495.9,476.7 507.8,468.3 519.6,469.5 531.4,468.8 543.3,468.8 555.1,469.1 567.0,473.1 578.8,473.1 590.7,473.1 602.5,473.1 614.4,478.5" fill="none" stroke="#5a4a30" stroke-width="2.6" stroke-linejoin="round" stroke-linecap="round"/>
<polyline points="377.4,489.0 389.2,480.0 401.1,474.9 412.9,464.2 424.8,455.1 436.6,459.6 448.5,462.0 460.3,463.7 472.2,465.4 484.0,477.0 495.9,482.0 507.8,484.9 519.6,486.5 531.4,487.1 543.3,488.6 555.1,490.9 567.0,491.5 578.8,491.8 590.7,491.5 602.5,491.5 614.4,490.9" fill="none" stroke="#4f7a93" stroke-width="2.6" stroke-linejoin="round" stroke-linecap="round"/>
<polyline points="377.4,489.0 389.2,487.6 401.1,486.5 412.9,490.0 424.8,495.0 436.6,496.0 448.5,489.0 460.3,479.1 472.2,473.3 484.0,467.0 495.9,465.2 507.8,464.2 519.6,462.8 531.4,459.7 543.3,456.3 555.1,453.2 567.0,455.4 578.8,457.4 590.7,457.4 602.5,454.3 614.4,451.5" fill="none" stroke="#151213" stroke-width="2.6" stroke-linejoin="round" stroke-linecap="round"/>
<polyline points="377.4,489.0 389.2,489.0 401.1,489.8 412.9,491.0 424.8,492.0 436.6,491.5 448.5,491.0 460.3,489.0 472.2,488.4 484.0,488.4 495.9,487.9 507.8,487.3 519.6,486.5 531.4,486.5 543.3,486.0 555.1,485.7 567.0,484.9 578.8,489.0 590.7,491.5 602.5,497.7 614.4,497.7" fill="none" stroke="#0b3b8f" stroke-width="2.6" stroke-linejoin="round" stroke-linecap="round"/>
<polyline points="377.4,489.0 389.2,483.2 401.1,477.0 412.9,471.6 424.8,478.2 436.6,481.0 448.5,483.6 460.3,486.5 472.2,485.7 484.0,484.4 495.9,484.4 507.8,484.0 519.6,484.0 531.4,479.1 543.3,477.8 555.1,476.7 567.0,475.8 578.8,475.3 590.7,476.3 602.5,476.9 614.4,478.6" fill="none" stroke="#ec008c" stroke-width="2.6" stroke-linejoin="round" stroke-linecap="round"/>
<line x1="361.5" y1="383.5" x2="374" y2="383.5" stroke="#1bb5a5" stroke-width="3.1" stroke-linecap="round"/>
<text x="378" y="386.8" font-size="10.5" font-weight="bold" fill="#1a1718" textLength="37" lengthAdjust="spacingAndGlyphs">Mumbai</text>
<line x1="425.0" y1="381.5" x2="437.5" y2="381.5" stroke="#f37b15" stroke-width="3.1" stroke-linecap="round"/>
<text x="441" y="384.8" font-size="10.5" font-weight="bold" fill="#1a1718" textLength="35" lengthAdjust="spacingAndGlyphs">London</text>
<line x1="486.0" y1="381.5" x2="498.5" y2="381.5" stroke="#7d1f8c" stroke-width="3.1" stroke-linecap="round"/>
<text x="503" y="384.8" font-size="10.5" font-weight="bold" fill="#1a1718" textLength="45.4" lengthAdjust="spacingAndGlyphs">Singapore</text>
<line x1="557.5" y1="381.5" x2="570" y2="381.5" stroke="#5a4a30" stroke-width="3.1" stroke-linecap="round"/>
<text x="574.6" y="384.8" font-size="10.5" font-weight="bold" fill="#1a1718" textLength="23" lengthAdjust="spacingAndGlyphs">Paris</text>
<line x1="361.5" y1="395.5" x2="374" y2="395.5" stroke="#151213" stroke-width="3.1" stroke-linecap="round"/>
<text x="378" y="398.8" font-size="10.5" font-weight="bold" fill="#1a1718" textLength="31.6" lengthAdjust="spacingAndGlyphs">Beijing</text>
<line x1="425.0" y1="395.5" x2="437.5" y2="395.5" stroke="#0b3b8f" stroke-width="3.1" stroke-linecap="round"/>
<text x="441" y="398.8" font-size="10.5" font-weight="bold" fill="#1a1718" textLength="26.8" lengthAdjust="spacingAndGlyphs">Rome</text>
<line x1="486.0" y1="395.5" x2="498.5" y2="395.5" stroke="#4f7a93" stroke-width="3.1" stroke-linecap="round"/>
<text x="504.5" y="398.8" font-size="10.5" font-weight="bold" fill="#1a1718" textLength="35" lengthAdjust="spacingAndGlyphs">Monaco</text>
<line x1="557.5" y1="395.5" x2="570" y2="395.5" stroke="#ec008c" stroke-width="3.1" stroke-linecap="round"/>
<text x="574.6" y="398.8" font-size="10.5" font-weight="bold" fill="#1a1718" textLength="36.3" lengthAdjust="spacingAndGlyphs">Moscow</text>
<text x="377.3" y="542.2" font-size="10.6" font-weight="bold" fill="#1a1718" text-anchor="middle" textLength="38.6" lengthAdjust="spacingAndGlyphs">Q4 2007</text>
<text x="421.2" y="542.2" font-size="10.6" font-weight="bold" fill="#1a1718" text-anchor="middle" textLength="38.6" lengthAdjust="spacingAndGlyphs">Q4 2008</text>
<text x="466.5" y="542.2" font-size="10.6" font-weight="bold" fill="#1a1718" text-anchor="middle" textLength="38.6" lengthAdjust="spacingAndGlyphs">Q4 2009</text>
<text x="512.8" y="542.2" font-size="10.6" font-weight="bold" fill="#1a1718" text-anchor="middle" textLength="38.6" lengthAdjust="spacingAndGlyphs">Q4 2010</text>
<text x="560.4" y="542.2" font-size="10.6" font-weight="bold" fill="#1a1718" text-anchor="middle" textLength="38.6" lengthAdjust="spacingAndGlyphs">Q4 2011</text>
<text x="605.0" y="542.2" font-size="10.6" font-weight="bold" fill="#1a1718" text-anchor="middle" textLength="38.6" lengthAdjust="spacingAndGlyphs">Q4 2012</text>
</g>
<g id="billionaires">
<polygon points="49,471 253,471 150,557 49,557" fill="#d3dee5"/>
<text x="59.9" y="486.8" font-size="12" font-weight="bold" fill="#1a1718" textLength="98" lengthAdjust="spacingAndGlyphs">POPULATION OF</text>
<text x="59.9" y="497.8" font-size="12" font-weight="bold" fill="#1a1718" textLength="103" lengthAdjust="spacingAndGlyphs">BILLIONAIRES ($)</text>
<rect x="59.9" y="511.6" width="9.1" height="9" fill="#f37b15"/>
<rect x="59.9" y="525.4" width="9.1" height="9" fill="#09a69b"/>
<path d="M59.5 551 v-5.4 a5.5 5.4 0 1 1 5.5 5.4 z" fill="#1a1718"/>
<text x="73.2" y="520" font-size="9.9" font-weight="bold" fill="#1a1718" textLength="21.6" lengthAdjust="spacingAndGlyphs">2012</text>
<text x="73.2" y="533.8" font-size="9.9" font-weight="bold" fill="#1a1718" textLength="21.6" lengthAdjust="spacingAndGlyphs">2022</text>
<text x="73.2" y="548.2" font-size="9.9" font-weight="bold" fill="#1a1718" textLength="36" lengthAdjust="spacingAndGlyphs">Change</text>
<g transform="translate(0 663.1) rotate(-39.7)">
<rect x="-60" y="0" width="333" height="13.85" fill="#f37b15"/>
<rect x="-60" y="14.25" width="377" height="13.85" fill="#09a69b"/>
<rect x="321.5" y="14.25" width="26.19999999999999" height="13.85" fill="#09a69b"/>
<text x="275.5" y="13.3" font-size="17" font-weight="bold" fill="#1a1718" stroke="#1a1718" stroke-width="0.35">543</text>
<text x="350.2" y="27.2" font-size="17" font-weight="bold" fill="#1a1718" textLength="35.5" lengthAdjust="spacingAndGlyphs" stroke="#1a1718" stroke-width="0.35">1,101</text>
<rect x="17" y="8.6" width="86" height="12.6" fill="#fff"/>
<text x="20" y="18.9" font-size="11" font-weight="bold" fill="#1a1718" textLength="80" lengthAdjust="spacingAndGlyphs">UNITED STATES</text>
</g>
<g transform="translate(0 711.5) rotate(-39.7)">
<rect x="-60" y="0" width="208" height="13.85" fill="#f37b15"/>
<rect x="-60" y="14.25" width="341.2" height="13.85" fill="#09a69b"/>
<text x="150.5" y="13.3" font-size="17" font-weight="bold" fill="#1a1718" stroke="#1a1718" stroke-width="0.35">154</text>
<text x="283.7" y="27.2" font-size="17" font-weight="bold" fill="#1a1718" stroke="#1a1718" stroke-width="0.35">483</text>
<rect x="17" y="8.6" width="40" height="12.6" fill="#fff"/>
<text x="20" y="18.9" font-size="11" font-weight="bold" fill="#1a1718" textLength="34" lengthAdjust="spacingAndGlyphs">CHINA</text>
</g>
<g transform="translate(0 759.9) rotate(-39.7)">
<rect x="-60" y="0" width="238" height="13.85" fill="#f37b15"/>
<rect x="-60" y="14.25" width="299.2" height="13.85" fill="#09a69b"/>
<text x="180.5" y="13.3" font-size="17" font-weight="bold" fill="#1a1718" stroke="#1a1718" stroke-width="0.35">149</text>
<text x="241.7" y="27.2" font-size="17" font-weight="bold" fill="#1a1718" stroke="#1a1718" stroke-width="0.35">300</text>
<rect x="17" y="8.6" width="58" height="12.6" fill="#fff"/>
<text x="20" y="18.9" font-size="11" font-weight="bold" fill="#1a1718" textLength="52" lengthAdjust="spacingAndGlyphs">GERMANY</text>
</g>
<g transform="translate(0 808.3) rotate(-39.7)">
<rect x="-60" y="0" width="268" height="13.85" fill="#f37b15"/>
<rect x="-60" y="14.25" width="319.2" height="13.85" fill="#09a69b"/>
<text x="210.5" y="13.3" font-size="17" font-weight="bold" fill="#1a1718" stroke="#1a1718" stroke-width="0.35">149</text>
<text x="261.7" y="27.2" font-size="17" font-weight="bold" fill="#1a1718" stroke="#1a1718" stroke-width="0.35">276</text>
<rect x="35" y="8.6" width="21" height="12.6" fill="#fff"/>
<text x="38" y="18.9" font-size="11" font-weight="bold" fill="#1a1718" textLength="15" lengthAdjust="spacingAndGlyphs">UK</text>
</g>
<g transform="translate(0 856.7) rotate(-39.7)">
<rect x="-60" y="0" width="286" height="13.85" fill="#f37b15"/>
<rect x="-60" y="14.25" width="328.2" height="13.85" fill="#09a69b"/>
<text x="228.5" y="13.3" font-size="17" font-weight="bold" fill="#1a1718" stroke="#1a1718" stroke-width="0.35">122</text>
<text x="270.7" y="27.2" font-size="17" font-weight="bold" fill="#1a1718" stroke="#1a1718" stroke-width="0.35">225</text>
<rect x="74.5" y="8.6" width="38" height="12.6" fill="#fff"/>
<text x="77.5" y="18.9" font-size="11" font-weight="bold" fill="#1a1718" textLength="32" lengthAdjust="spacingAndGlyphs">INDIA</text>
</g>
<g transform="translate(0 905.1) rotate(-39.7)">
<rect x="-60" y="0" width="289" height="13.85" fill="#f37b15"/>
<rect x="-60" y="14.25" width="324.2" height="13.85" fill="#09a69b"/>
<text x="231.5" y="13.3" font-size="17" font-weight="bold" fill="#1a1718" stroke="#1a1718" stroke-width="0.35">53</text>
<text x="266.7" y="27.2" font-size="17" font-weight="bold" fill="#1a1718" stroke="#1a1718" stroke-width="0.35">136</text>
<rect x="129.5" y="8.6" width="44" height="12.6" fill="#fff"/>
<text x="132.5" y="18.9" font-size="11" font-weight="bold" fill="#1a1718" textLength="38" lengthAdjust="spacingAndGlyphs">BRAZIL</text>
</g>
<path d="M184.2 530.6 v-15.5 a15.5 15.5 0 1 1 15.5 15.5 z" fill="#1a1718"/>
<text transform="translate(199.7 515.1) rotate(-39.7)" x="0" y="4" font-size="11" font-weight="bold" fill="#fff" text-anchor="middle">103%</text>
<path d="M90.6 658.1 v-15.0 a15.0 15.0 0 1 1 15.0 15.0 z" fill="#1a1718"/>
<text transform="translate(105.6 643.1) rotate(-39.7)" x="0" y="4" font-size="11" font-weight="bold" fill="#fff" text-anchor="middle">214%</text>
<path d="M110.0 688.2 v-14.8 a14.8 14.8 0 1 1 14.8 14.8 z" fill="#1a1718"/>
<text transform="translate(124.7 673.5) rotate(-39.7)" x="0" y="4" font-size="11" font-weight="bold" fill="#fff" text-anchor="middle">101%</text>
<path d="M139.9 712.3 v-13.5 a13.5 13.5 0 1 1 13.5 13.5 z" fill="#1a1718"/>
<text transform="translate(153.4 698.8) rotate(-39.7)" x="0" y="4" font-size="11" font-weight="bold" fill="#fff" text-anchor="middle">85%</text>
<path d="M149.7 752.7 v-14.0 a14.0 14.0 0 1 1 14.0 14.0 z" fill="#1a1718"/>
<text transform="translate(163.7 738.7) rotate(-39.7)" x="0" y="4" font-size="11" font-weight="bold" fill="#fff" text-anchor="middle">84%</text>
<path d="M150.4 799.1 v-15.5 a15.5 15.5 0 1 1 15.5 15.5 z" fill="#1a1718"/>
<text transform="translate(165.9 783.6) rotate(-39.7)" x="0" y="4" font-size="11" font-weight="bold" fill="#fff" text-anchor="middle">157%</text>
</g>
<g id="piggy">
<path d="M394 711 L381 711 C371 712 366.5 722 366.5 732 C366.5 745 374 755 387 757.5 L391 752.5 C385 749 382.5 743 382.5 736 C382.5 729 385 725 394 724 Z" fill="#f37b15"/>
<path d="M406 745 L406 795 Q406 801 412 801 L449.5 801 Q455.5 801 455.5 795 L455.5 770 Z" fill="#f37b15"/>
<path d="M508 770 L508 795 Q508 801 514 801 L551 801 Q557 801 557 795 L557 760 Z" fill="#f37b15"/>
<path d="M540 640 C556 626 566 619.5 579 618 C588 617.5 591.5 622 588.5 628 C583 638 579 646 578.5 652 C582 657 586 661 589 667 L560 668 Z" fill="#f37b15"/>
<path d="M592 686.5 L619 692.5 Q628.5 694.5 628 702 L621.5 737 Q620.5 742.5 614 743 L598 744.5 L585 747 Z" fill="#f37b15"/>
<polygon points="600.1,701.0 600.0,707.4 599.8,712.0 599.5,716.1 599.1,719.9 598.5,723.5 597.8,726.9 597.0,730.1 596.1,733.2 595.0,736.2 593.8,739.1 592.5,741.9 591.1,744.6 589.5,747.2 587.8,749.7 586.0,752.1 584.1,754.4 582.1,756.6 579.9,758.7 577.7,760.8 575.3,762.7 572.8,764.6 570.1,766.3 567.4,768.0 564.6,769.6 561.6,771.1 558.5,772.5 555.3,773.8 551.9,775.0 548.5,776.1 544.9,777.1 541.2,778.0 537.3,778.9 533.3,779.6 529.1,780.2 524.7,780.8 520.1,781.2 515.3,781.6 510.0,781.8 504.0,782.0 495.8,782.0 487.6,782.0 481.6,781.8 476.3,781.6 471.5,781.2 466.9,780.8 462.5,780.2 458.3,779.6 454.3,778.9 450.4,778.0 446.7,777.1 443.1,776.1 439.7,775.0 436.3,773.8 433.1,772.5 430.0,771.1 427.0,769.6 424.2,768.0 421.5,766.3 418.8,764.6 416.3,762.7 413.9,760.8 411.7,758.7 409.5,756.6 407.5,754.4 405.6,752.1 403.8,749.7 402.1,747.2 400.5,744.6 399.1,741.9 397.8,739.1 396.6,736.2 395.5,733.2 394.6,730.1 393.8,726.9 393.1,723.5 392.5,719.9 392.1,716.1 391.8,712.0 391.6,707.4 391.5,701.0 391.6,694.6 391.8,690.0 392.1,685.9 392.5,682.1 393.1,678.5 393.8,675.1 394.6,671.9 395.5,668.8 396.6,665.8 397.8,662.9 399.1,660.1 400.5,657.4 402.1,654.8 403.8,652.3 405.6,649.9 407.5,647.6 409.5,645.4 411.7,643.3 413.9,641.2 416.3,639.3 418.8,637.4 421.5,635.7 424.2,634.0 427.0,632.4 430.0,630.9 433.1,629.5 436.3,628.2 439.7,627.0 443.1,625.9 446.7,624.9 450.4,624.0 454.3,623.1 458.3,622.4 462.5,621.8 466.9,621.2 471.5,620.8 476.3,620.4 481.6,620.2 487.6,620.0 495.8,620.0 504.0,620.0 510.0,620.2 515.3,620.4 520.1,620.8 524.7,621.2 529.1,621.8 533.3,622.4 537.3,623.1 541.2,624.0 544.9,624.9 548.5,625.9 551.9,627.0 555.3,628.2 558.5,629.5 561.6,630.9 564.6,632.4 567.4,634.0 570.1,635.7 572.8,637.4 575.3,639.3 577.7,641.2 579.9,643.3 582.1,645.4 584.1,647.6 586.0,649.9 587.8,652.3 589.5,654.8 591.1,657.4 592.5,660.1 593.8,662.9 595.0,665.8 596.1,668.8 597.0,671.9 597.8,675.1 598.5,678.5 599.1,682.1 599.5,685.9 599.8,690.0 600.0,694.6" fill="#f37b15"/>
<path d="M391.5 690 L391.5 748 Q392 765 406 771.5 L406 782 L456 782 L456 690 Z" fill="#f37b15"/>
<path d="M391.5 705 L391.5 661 Q395 649 407 641 Q422 631.5 445 627.5 L445 705 Z" fill="#f37b15"/>
<path d="M442.5 638.2 Q489 627.5 535.5 638.2" fill="none" stroke="#f2f2f0" stroke-width="4.8"/>
<circle cx="489.1" cy="614.8" r="41.5" fill="#09a69b"/>
<circle cx="489.1" cy="614.8" r="38.3" fill="none" stroke="#cfeeea" stroke-width="3.6" stroke-dasharray="0.75 0.92"/>
<path d="M440 641 Q489 629.5 538 641 L538 662 L440 662 Z" fill="#f37b15"/>
<text x="489.3" y="628.9" font-size="58" fill="#fff" stroke="#fff" stroke-width="0.4" text-anchor="middle" textLength="26.5" lengthAdjust="spacingAndGlyphs" font-family="'DejaVu Sans','Liberation Sans',sans-serif">₹</text>
<text x="486.5" y="662.3" font-size="11.5" font-weight="bold" fill="#1a1718" textLength="34.5" lengthAdjust="spacingAndGlyphs">5 years</text>
<text x="535.9" y="662.3" font-size="11.5" font-weight="bold" fill="#1a1718" textLength="39" lengthAdjust="spacingAndGlyphs">10 years</text>
<line x1="404" y1="666.6" x2="579.5" y2="666.6" stroke="#fde3c8" stroke-width="0.8"/>
<text x="399" y="679.6" font-size="13.5" fill="#fff" textLength="64" lengthAdjust="spacingAndGlyphs" stroke="#fff" stroke-width="0.35">Classic cars</text>
<text x="484.5" y="679.6" font-size="13" font-weight="bold" fill="#fff" textLength="39" lengthAdjust="spacingAndGlyphs">+115%</text>
<text x="579.6" y="679.6" font-size="13" font-weight="bold" fill="#fff" text-anchor="end" textLength="39" lengthAdjust="spacingAndGlyphs">+395%</text>
<text x="399" y="698.1" font-size="13.5" fill="#fff" textLength="31" lengthAdjust="spacingAndGlyphs" stroke="#fff" stroke-width="0.35">Coins</text>
<text x="484.5" y="698.1" font-size="13" font-weight="bold" fill="#fff" textLength="32" lengthAdjust="spacingAndGlyphs">+93%</text>
<text x="579.6" y="698.1" font-size="13" font-weight="bold" fill="#fff" text-anchor="end" textLength="39" lengthAdjust="spacingAndGlyphs">+248%</text>
<text x="399" y="716.7" font-size="13.5" fill="#fff" textLength="42" lengthAdjust="spacingAndGlyphs" stroke="#fff" stroke-width="0.35">Stamps</text>
<text x="484.5" y="716.7" font-size="13" font-weight="bold" fill="#fff" textLength="32" lengthAdjust="spacingAndGlyphs">+72%</text>
<text x="579.6" y="716.7" font-size="13" font-weight="bold" fill="#fff" text-anchor="end" textLength="39" lengthAdjust="spacingAndGlyphs">+216%</text>
<text x="399" y="735.2" font-size="13.5" fill="#fff" textLength="17.5" lengthAdjust="spacingAndGlyphs" stroke="#fff" stroke-width="0.35">Art</text>
<text x="484.5" y="735.2" font-size="13" font-weight="bold" fill="#fff" textLength="32" lengthAdjust="spacingAndGlyphs">+92%</text>
<text x="579.6" y="735.2" font-size="13" font-weight="bold" fill="#fff" text-anchor="end" textLength="39" lengthAdjust="spacingAndGlyphs">+199%</text>
<text x="399" y="753.8" font-size="13.5" fill="#fff" textLength="28.5" lengthAdjust="spacingAndGlyphs" stroke="#fff" stroke-width="0.35">Wine</text>
<text x="484.5" y="753.8" font-size="13" font-weight="bold" fill="#fff" textLength="25" lengthAdjust="spacingAndGlyphs">+7%</text>
<text x="579.6" y="753.8" font-size="13" font-weight="bold" fill="#fff" text-anchor="end" textLength="39" lengthAdjust="spacingAndGlyphs">+166%</text>
</g>
<g id="luxury">
<path d="M327 588.5 A65.9 60.3 0 0 1 392.9 648.8 V709.1 H327 A65.9 60.3 0 0 1 327 588.5 Z" fill="#bccedb"/>
<text x="280" y="620.5" font-size="12.3" font-weight="bold" fill="#1a1718" textLength="73.4" lengthAdjust="spacingAndGlyphs">INCREASING</text>
<text x="280" y="632.5" font-size="12.3" font-weight="bold" fill="#1a1718" textLength="57.9" lengthAdjust="spacingAndGlyphs">VALUE OF</text>
<text x="280" y="644.4" font-size="12.3" font-weight="bold" fill="#1a1718" textLength="46.3" lengthAdjust="spacingAndGlyphs">LUXURY</text>
<text x="280" y="656.4" font-size="12.3" font-weight="bold" fill="#1a1718" textLength="84.5" lengthAdjust="spacingAndGlyphs">INVESTMENTS</text>
<text x="280.5" y="670.4" font-size="11.5" fill="#2b2a2c" textLength="100" lengthAdjust="spacingAndGlyphs">% change in value at</text>
<text x="280.5" y="683.7" font-size="11.5" fill="#2b2a2c" textLength="92.3" lengthAdjust="spacingAndGlyphs">the end of Q3 2012</text>
</g>
<g id="footer">
<text x="642.5" y="794" font-size="10.5" fill="#1a1718" text-anchor="end" textLength="54" lengthAdjust="spacingAndGlyphs" stroke="#1a1718" stroke-width="0.15">Source: Knight Frank</text>
<text x="643.5" y="808.5" font-size="10.5" fill="#1a1718" text-anchor="end" textLength="234" lengthAdjust="spacingAndGlyphs" stroke="#1a1718" stroke-width="0.15">High networth individuals (HNIs) include those with $30 million or more in net assets;</text>
<text x="643.5" y="821.5" font-size="10.5" fill="#1a1718" text-anchor="end" textLength="197" lengthAdjust="spacingAndGlyphs" stroke="#1a1718" stroke-width="0.15">prime property refers to the most desirable property at a given location</text>
</g>
</svg>
</body>
</html>
